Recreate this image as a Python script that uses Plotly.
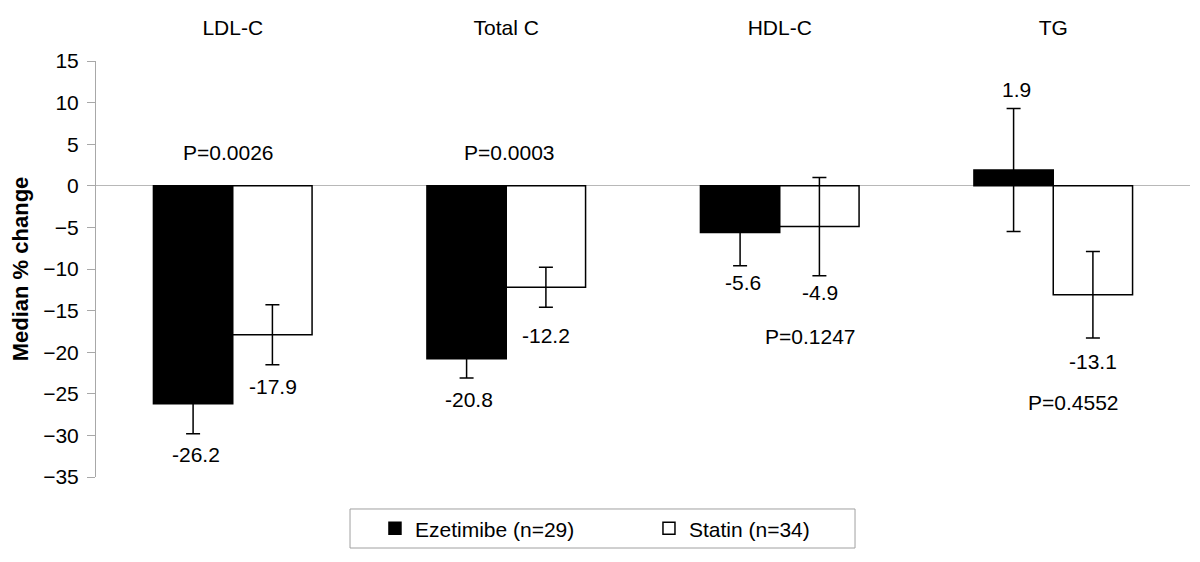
import plotly.graph_objects as go

# ---- data ----
categories = ["LDL-C", "Total C", "HDL-C", "TG"]
series_names = ["Ezetimibe (n=29)", "Statin (n=34)"]
ezetimibe_median = [-26.2, -20.8, -5.6, 1.9]
ezetimibe_err = [3.6, 2.3, 4.0, 7.4]
statin_median = [-17.9, -12.2, -4.9, -13.1]
statin_err = [3.6, 2.4, 5.9, 5.2]
p_values = ["P=0.0026", "P=0.0003", "P=0.1247", "P=0.4552"]
y_ticks = [15, 10, 5, 0, -5, -10, -15, -20, -25, -30, -35]

# ---- style / placement (pixels or axis units, not data) ----
FONT = "Arial, 'Liberation Sans', sans-serif"
FS = 21
ez_label_gap = [21, 22, 17, 19]
st_label_gap = [22, 28, 17, 23]
p_pos_y = [4.0, 4.0, -18.1, -26.1]
p_xshift = [-4, 3, 31, 20]

fig = go.Figure()
fig.add_trace(go.Bar(
    x=categories, y=ezetimibe_median, name=series_names[0],
    marker=dict(color="black", line=dict(color="black", width=1.5)),
    error_y=dict(type="data", array=ezetimibe_err, color="black", thickness=1.5, width=7),
))
fig.add_trace(go.Bar(
    x=categories, y=statin_median, name=series_names[1],
    marker=dict(color="white", line=dict(color="black", width=1.5)),
    error_y=dict(type="data", array=statin_err, color="black", thickness=1.5, width=7),
))

annotations = []
for vals, errs, gaps, xs in [(ezetimibe_median, ezetimibe_err, ez_label_gap, -37),
                             (statin_median, statin_err, st_label_gap, 40)]:
    for c, v, e, g in zip(categories, vals, errs, gaps):
        end = v + e if v > 0 else v - e
        annotations.append(dict(
            x=c, y=end, xref="x", yref="y", text=f"{v:.1f}", showarrow=False,
            xshift=xs, yshift=g if v > 0 else -g, yanchor="middle",
            font=dict(family=FONT, size=FS, color="black")))
for c, p, py, pxs in zip(categories, p_values, p_pos_y, p_xshift):
    annotations.append(dict(
        x=c, y=py, xref="x", yref="y", text=p, showarrow=False, xshift=pxs,
        yanchor="middle", font=dict(family=FONT, size=FS, color="black")))

fig.update_layout(
    width=1200, height=562,
    margin=dict(l=88, r=18, t=53, b=93, autoexpand=False),
    paper_bgcolor="white", plot_bgcolor="white",
    barmode="group", bargap=0.42, bargroupgap=0,
    font=dict(family=FONT, size=FS, color="black"),
    annotations=annotations,
    showlegend=True,
    legend=dict(orientation="h", x=0.255, y=-0.075, xanchor="left", yanchor="top",
                entrywidth=229, bgcolor="rgba(0,0,0,0)", borderwidth=0,
                font=dict(family=FONT, size=FS, color="black"), traceorder="normal"),
    shapes=[dict(type="rect", xref="paper", yref="paper",
                 x0=0.2322, x1=0.6938, y0=-0.1707, y1=-0.0769,
                 line=dict(color="#a0a0a0", width=1), fillcolor="rgba(0,0,0,0)", layer="below")],
)
fig.update_xaxes(side="top", showline=False, ticks="", showgrid=False, automargin=False,
                 ticklabelstandoff=21, tickfont=dict(family=FONT, size=FS, color="black"))
fig.update_yaxes(range=[-35, 15], tickvals=y_ticks, ticks="outside", ticklen=8,
                 tickcolor="#a8a8a8", showline=True, linecolor="#a8a8a8", linewidth=1,
                 showgrid=False, zeroline=True, zerolinecolor="#b8b8b8", zerolinewidth=1,
                 ticklabelstandoff=4, automargin=False,
                 tickfont=dict(family=FONT, size=FS, color="black"),
                 title=dict(text="<b>Median % change</b>", standoff=9,
                            font=dict(family=FONT, size=22, color="black")))

fig.write_html("out.html")
